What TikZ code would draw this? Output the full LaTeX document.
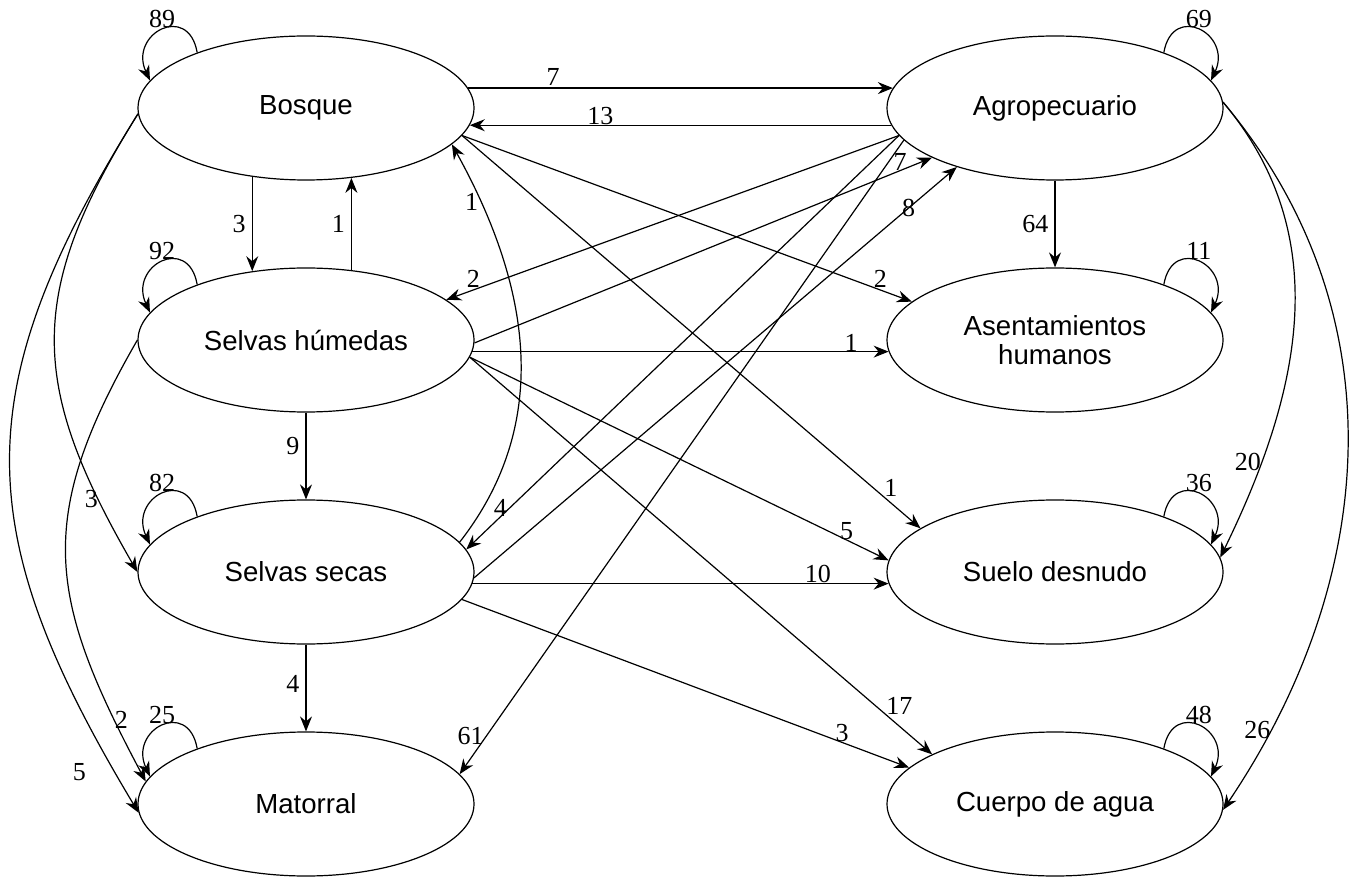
\documentclass[tikz,border=0pt]{standalone}
\usepackage{fontspec}
\setmainfont{Liberation Serif}
\setsansfont{Liberation Sans}
\usetikzlibrary{arrows.meta,shapes.geometric}

\begin{document}
\begin{tikzpicture}[x=0.5pt,y=-0.5pt,>={Stealth[length=7.5pt,width=6pt,inset=2.5pt]},semithick,node distance=116pt,
  land node/.style={ellipse,draw,minimum width=168pt,minimum height=72pt,inner sep=0pt,
    align=center,font=\sffamily\fontsize{13.8}{14.5}\selectfont}]

  \useasboundingbox (0,0) rectangle (1358,881);

  \node[land node] (bos) at (306,108) {Bosque};
  \node[land node] (shu) [below of=bos] {Selvas húmedas};
  \node[land node] (sse) [below of=shu] {Selvas secas};
  \node[land node] (mat) [below of=sse] {Matorral};
  \node[land node] (agr) [right of=bos,node distance=374.5pt] {Agropecuario};
  \node[land node] (ase) [below of=agr] {Asentamientos\\humanos};
  \node[land node] (sue) [below of=ase] {Suelo desnudo};
  \node[land node] (cue) [below of=sue] {Cuerpo de agua};

  % permanencias
  \path[->,every node/.style={font=\fontsize{13}{13}\selectfont,inner sep=1pt}]
    (bos.153) edge[out=100,in=115,looseness=2.4] node[above] {89} (bos.170)
    (shu.153) edge[out=100,in=115,looseness=2.4] node[above] {92} (shu.170)
    (sse.153) edge[out=100,in=115,looseness=2.4] node[above] {82} (sse.170)
    (mat.153) edge[out=100,in=115,looseness=2.4] node[above] {25} (mat.170)
    (agr.27) edge[out=80,in=65,looseness=2.4] node[above] {69} (agr.10)
    (ase.27) edge[out=80,in=65,looseness=2.4] node[above] {11} (ase.10)
    (sue.27) edge[out=80,in=65,looseness=2.4] node[above] {36} (sue.10)
    (cue.27) edge[out=80,in=65,looseness=2.4] node[above] {48} (cue.10);

  % cambios
  \path[->,every node/.style={font=\fontsize{13}{13}\selectfont,inner sep=1pt}]
    (bos.7) edge node[pos=0.2,above] {7} (agr.173)
    (agr.186) edge node[pos=0.69,above,inner sep=0pt] {13} (bos.-6)
    (bos.-128.4) edge node[left=2pt] {3} (shu.128.4)
    (shu.57) edge node[left=2pt] {1} (bos.-57)
    (shu.south) edge node[pos=0.38,left=2pt] {9} (sse.north)
    (sse.south) edge node[pos=0.45,left=2pt] {4} (mat.north)
    (agr.south) edge node[left=2pt] {64} (ase.north)
    (bos.-10) edge node[pos=0.93,above] {2} (ase.165)
    (bos.-10) edge node[pos=0.92,above right,inner sep=0pt] {1} (sue.162)
    (sse.11) edge[out=52,in=-61] node[pos=0.86,left] {1} (bos.-14)
    (agr.190) edge node[pos=0.94,above] {2} (shu.16)
    (agr.190) edge node[pos=0.9,left] {4} (sse.8)
    (agr.192) edge node[pos=0.94,left] {61} (mat.11)
    (sse.-2) edge node[pos=0.9] {8} (agr.211)
    (shu.-1) edge node[pos=0.93,above,inner sep=0pt] {7} (agr.202)
    (shu.-4) edge node[pos=0.91,above,inner sep=0pt] {1} (ase.184)
    (shu.-6) edge node[pos=0.9,above,inner sep=0pt] {5} (sue.176)
    (shu.-6) edge node[pos=0.9,above right,inner sep=0pt] {17} (cue.158)
    (sse.-4) edge node[pos=0.83,above,inner sep=0pt] {10} (sue.184)
    (sse.-10) edge node[pos=0.85,above,inner sep=0pt] {3} (cue.166)
    (bos.182) edge[out=238,in=120,looseness=1.2] node[pos=0.86,left,inner sep=0pt] {3} (sse.180)
    (bos.182) edge[out=238,in=121,looseness=1.2] node[pos=0.95,left=13pt] {5} (mat.183)
    (shu.180) edge[out=240,in=118,looseness=1.2] node[pos=0.88,right,inner sep=0pt] {2} (mat.172)
    (agr.2) edge[out=-50,in=64] node[pos=0.8,left,inner sep=0pt] {20} (sue.5)
    (agr.2) edge[out=-50,in=56] node[pos=0.885,left,inner sep=0pt] {26} (cue.-2);
\end{tikzpicture}
\end{document}
